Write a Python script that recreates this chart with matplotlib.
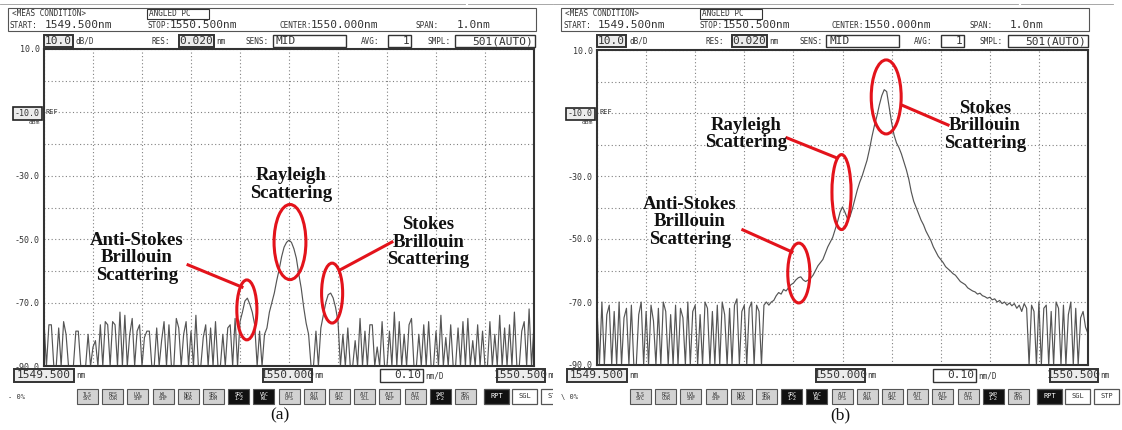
import numpy as np
import matplotlib
matplotlib.use('Agg')
import matplotlib.pyplot as plt
from matplotlib.patches import Rectangle, Ellipse

W, H = 1122, 430

# OSA sweep: 1549.500 nm .. 1550.500 nm, one sample every 5 pm
START_NM, STOP_NM, STEP_NM = 1549.5, 1550.5, 0.005
wavelength_nm = np.round(START_NM + STEP_NM * np.arange(201), 3)

# (a) measured level in dBm (-90 = below display floor)
level_a = [
    -76, -90, -77, -77, -90, -90, -78, -90, -76, -80,
    -90, -90, -90, -79, -79, -90, -90, -90, -80, -90,
    -84, -82, -90, -77, -90, -76, -77, -90, -76, -77,
    -90, -73, -90, -74, -90, -80, -75, -90, -79, -77,
    -90, -81, -79, -79, -90, -90, -78, -90, -82, -76,
    -90, -77, -90, -90, -75, -78, -90, -80, -76, -90,
    -79, -90, -74, -90, -90, -81, -77, -90, -78, -90,
    -76, -90, -90, -80, -90, -78, -77, -90, -75, -90,
    -76, -73, -69.5, -68.6, -70.5, -73, -77, -90, -79, -90,
    -80, -78, -73, -70, -67, -63, -59.5, -55.5, -52.5, -51,
    -50.3, -51, -53, -56, -61, -65.5, -71.5, -76.5, -80, -90,
    -90, -79, -90, -78, -74, -70, -67.5, -67, -68.5, -71.5,
    -76, -90, -80, -90, -78, -90, -90, -82, -90, -75,
    -90, -79, -90, -77, -77, -90, -84, -90, -76, -90,
    -90, -79, -90, -73, -90, -76, -90, -80, -90, -77,
    -75, -90, -90, -80, -90, -77, -90, -76, -90, -90,
    -79, -90, -74, -90, -81, -90, -77, -90, -90, -78,
    -90, -76, -90, -75, -90, -82, -90, -77, -90, -79,
    -90, -90, -76, -90, -80, -90, -74, -90, -78, -90,
    -77, -90, -73, -90, -90, -79, -76, -90, -72, -90,
    -77,
]

# (b) measured level in dBm
level_b = [
    -72, -90, -70, -90, -74, -71, -90, -73, -90, -70,
    -90, -75, -72, -90, -71, -90, -90, -74, -70, -90,
    -73, -90, -71, -76, -90, -72, -90, -70, -73, -90,
    -74, -90, -71, -90, -72, -75, -90, -70, -90, -73,
    -71, -90, -74, -90, -70, -72, -90, -73, -90, -71,
    -90, -70, -74, -90, -72, -90, -71, -69, -90, -73,
    -71, -90, -72, -70, -90, -71, -73, -90, -71, -70,
    -71, -70, -69.5, -68, -67, -67.5, -66, -66.5, -65.5, -64.5,
    -64, -63, -62.3, -62, -63, -63.5, -63, -62.5, -61.5, -60,
    -58.5, -57.5, -56.5, -54.5, -52.5, -51, -49.5, -47, -44.5, -41.5,
    -39.8, -41.5, -43.5, -43, -40.5, -37.5, -34.5, -32, -30, -27.5,
    -25, -21.5, -17.5, -14, -11, -7.5, -4.5, -2.6, -3.2, -8,
    -13, -17, -19.5, -21, -23, -25.5, -28, -31, -35, -38,
    -40, -42, -44, -45.5, -47.5, -49, -50.5, -52.5, -54, -55.5,
    -56.5, -57.5, -58.8, -59.5, -60.2, -61, -61.5, -62.5, -63.5, -64,
    -64.5, -65.5, -66, -66.5, -66.8, -67.5, -67.2, -68, -68.3, -68.8,
    -68.5, -69.3, -69, -70, -69.5, -70.5, -70, -71, -70.3, -71.2,
    -70.5, -72, -71, -73, -70.5, -72, -90, -71, -73, -90,
    -70, -90, -72, -71, -90, -73, -90, -70, -72, -90,
    -71, -90, -74, -70, -90, -72, -90, -75, -73, -78,
    -80,
]

assert len(level_a) == len(level_b) == len(wavelength_nm)

y_ticks = list(range(-90, 11, 10))
y_labels = ['-90.0', '', '-70.0', '', '-50.0', '', '-30.0', '', '-10.0', '', '10.0']

buttons = ['TLS\nSYC', 'RES\nCOR', 'LVL\nSHF', 'WL\nSHF', 'NOI\nMSK', 'SRC\nZOM',
           'SRC\n1-2', 'VAC\nWL', 'AUT\nOFS', 'AUT\nANA', 'AUT\nSRC', 'AUT\nSCL',
           'AUT\nREF', 'AUT\nCTR', 'SWP\n1-2', 'SRC\nOTH']
buttons_on = {6, 7, 14}

RED = '#e3131b'
MONO = 'DejaVu Sans Mono'
SERIF = 'Liberation Serif'

# callouts: text centre, ellipse (x, y, w, h) and leader line, in nm / dBm
notes_a = [
    ('Anti-Stokes\nBrillouin\nScattering', (1549.690, -55.9),
     (1549.914, -72.3, 0.041, 18.9), ((1549.794, -58.1), (1549.904, -65.1))),
    ('Rayleigh\nScattering', (1550.004, -32.8),
     (1550.002, -50.9, 0.065, 23.7), None),
    ('Stokes\nBrillouin\nScattering', (1550.284, -50.9),
     (1550.088, -67.0, 0.043, 18.9), ((1550.104, -59.7), (1550.210, -50.9))),
]
notes_b = [
    ('Anti-Stokes\nBrillouin\nScattering', (1549.689, -44.6),
     (1549.911, -60.8, 0.045, 19.0), ((1549.797, -47.1), (1549.897, -54.1))),
    ('Rayleigh\nScattering', (1549.803, -16.7),
     (1549.998, -35.1, 0.039, 23.8), ((1549.887, -17.9), (1549.989, -24.3))),
    ('Stokes\nBrillouin\nScattering', (1550.290, -14.1),
     (1550.089, -4.9, 0.061, 23.5), ((1550.121, -7.5), (1550.215, -13.8))),
]

fig = plt.figure(figsize=(W / 100, H / 100), dpi=100)
fig.patch.set_facecolor('white')


def px_axes(left, top, right, bottom):
    return fig.add_axes([left / W, 1 - bottom / H, (right - left) / W, (bottom - top) / H])


def spectrum(ax, level, notes):
    ax.plot(wavelength_nm, level, color='#555555', lw=0.85)
    ax.set_xlim(START_NM, STOP_NM)
    ax.set_ylim(-90, 10)
    ax.set_xticks(np.linspace(START_NM, STOP_NM, 11))
    ax.set_yticks(y_ticks)
    ax.set_yticklabels(y_labels, family=MONO, fontsize=6, color='#333')
    ax.tick_params(length=0, labelbottom=False, pad=3)
    ref = ax.get_yticklabels()[8]
    ref.set_bbox(dict(boxstyle='square,pad=0.2', fc='#ececec', ec='#222', lw=1.2))
    ax.grid(True, color='#808080', lw=0.8, linestyle=(0, (1, 2.2)))
    for s in ax.spines.values():
        s.set_color('#333')
        s.set_linewidth(1.5)

    for text, (tx, ty), (ex, ey, ew, eh), leader in notes:
        ax.add_patch(Ellipse((ex, ey), ew, eh, fill=False, ec=RED, lw=2.2, clip_on=False, zorder=5))
        if leader is not None:
            (x0, y0), (x1, y1) = leader
            ax.plot([x0, x1], [y0, y1], color=RED, lw=2.2, clip_on=False, zorder=5)
        ax.text(tx, ty, text, ha='center', va='center', family=SERIF, fontweight='bold',
                fontsize=13.5, linespacing=1.05, color='#111', zorder=6)


def txt(ov, x, y, s, size=5.5, ha='left', color='#333', family=MONO, **kw):
    ov.text(x, y, s, fontsize=size, ha=ha, va='center', color=color,
            family=family, clip_on=True, **kw)


def rect(ov, x0, y0, x1, y1, lw=0.8, fc='none', ec='#333'):
    ov.add_patch(Rectangle((x0, y0), x1 - x0, y1 - y0, facecolor=fc,
                           edgecolor=ec, lw=lw, clip_on=True))


def screen(ov, spinner, caption, cap_x):
    ov.set_xlim(0, ov.get_position().width * W)
    ov.set_ylim(H, 0)
    ov.axis('off')

    # measurement condition header
    ov.plot([0, 465], [4, 4], color='#999', lw=0.6)
    ov.plot([468, 560], [3.5, 3.5], color='#999', lw=0.6)
    rect(ov, 8, 8, 536, 31, ec='#555')
    txt(ov, 12, 14, '<MEAS CONDITION>')
    rect(ov, 147, 9, 209, 19)
    txt(ov, 149, 14, 'ANGLED PC')
    txt(ov, 10, 25.5, 'START:')
    txt(ov, 45, 25, f'{START_NM:.3f}nm', 8)
    txt(ov, 147, 25.5, 'STOP:')
    txt(ov, 170, 25, f'{STOP_NM:.3f}nm', 8)
    txt(ov, 279, 25.5, 'CENTER:')
    txt(ov, 311, 25, f'{(START_NM + STOP_NM) / 2:.3f}nm', 8)
    txt(ov, 416, 25.5, 'SPAN:')
    txt(ov, 457, 25, f'{STOP_NM - START_NM:.1f}nm', 8)

    # settings row
    rect(ov, 44, 35, 73, 47, lw=1.4, fc='#ececec')
    txt(ov, 58.5, 41, '10.0', 8, ha='center')
    txt(ov, 76, 41, 'dB/D')
    txt(ov, 152, 41, 'RES:')
    rect(ov, 179, 35, 214, 47, lw=1.4, fc='#ececec')
    txt(ov, 196.5, 41, '0.020', 8, ha='center')
    txt(ov, 216, 41, 'nm')
    txt(ov, 246, 41, 'SENS:')
    rect(ov, 273, 35, 346, 47, lw=1.0)
    txt(ov, 276, 41, 'MID', 8)
    txt(ov, 361, 41, 'AVG:')
    rect(ov, 388, 35, 411, 47, lw=1.0)
    txt(ov, 409, 41, '1', 8, ha='right')
    txt(ov, 427, 41, 'SMPL:')
    rect(ov, 455, 35, 535, 47, lw=1.0)
    txt(ov, 533, 41, '501(AUTO)', 8, ha='right')

    txt(ov, 40, 123, 'dBm', 4.5, ha='right')
    txt(ov, 46, 112, 'REF', 5)

    # wavelength scale
    for x0, x1, s in [(14, 74, f'{START_NM:.3f}'), (263, 312, f'{(START_NM + STOP_NM) / 2:.3f}'),
                      (497, 545, f'{STOP_NM:.3f}')]:
        rect(ov, x0, 369, x1, 382, lw=1.4, fc='#ececec')
        txt(ov, (x0 + x1) / 2, 375.5, s, 8, ha='center')
        txt(ov, x1 + 2, 376, 'nm')
    rect(ov, 380, 369, 423, 382, lw=1.0, fc='white')
    txt(ov, 421, 375.5, '0.10', 8, ha='right')
    txt(ov, 425, 376, 'nm/D')

    # soft keys
    txt(ov, 8, 397, spinner, 5)
    for k, lab in enumerate(buttons):
        x0 = 77 + 25.2 * k
        on = k in buttons_on
        rect(ov, x0, 389, x0 + 21, 404, lw=0.8, fc='#111' if on else '#d2d2d2', ec='#555')
        txt(ov, x0 + 10.5, 396.5, lab, 3.6, ha='center', color='white' if on else '#333',
            linespacing=0.95)
    for x0, lab, on in [(484, 'RPT', True), (512, 'SGL', False), (541, 'STP', False)]:
        rect(ov, x0, 389, x0 + 25, 404, lw=0.9, fc='#111' if on else 'white', ec='#555')
        txt(ov, x0 + 12.5, 396.5, lab, 5, ha='center', color='white' if on else '#333')

    ov.text(cap_x, 415, caption, fontsize=12.5, family=SERIF, ha='center', va='center', color='#111')


ax_a = px_axes(44, 49, 534, 366)
ax_b = px_axes(597, 50, 1088, 365)
spectrum(ax_a, level_a, notes_a)
spectrum(ax_b, level_b, notes_b)

ov_a = fig.add_axes([0, 0, 553 / W, 1], facecolor='none')
ov_b = fig.add_axes([553 / W, 0, (W - 553) / W, 1], facecolor='none')
screen(ov_a, '- 0%', '(a)', 280)
screen(ov_b, '\\ 0%', '(b)', 287)

fig.savefig('out.png', dpi=100)
